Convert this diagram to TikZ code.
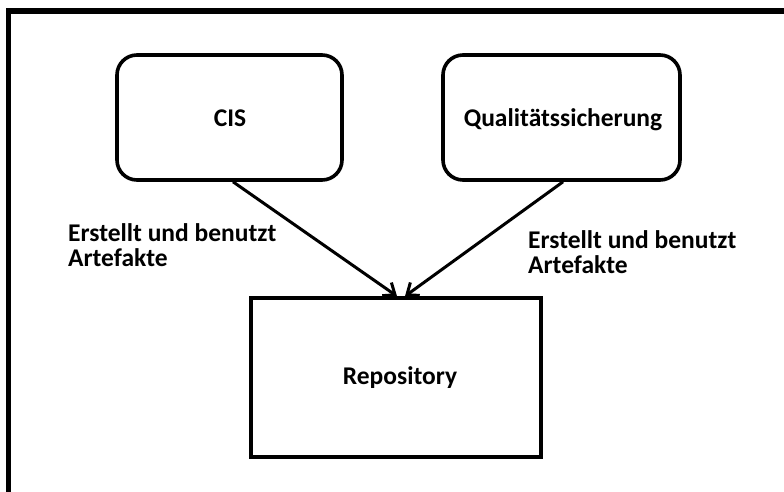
\documentclass[tikz,border=0pt]{standalone}
\usepackage{fontspec}
\setmainfont{Carlito}
\usetikzlibrary{arrows.meta,calc}
\begin{document}
\begin{tikzpicture}[x=1pt,y=-1pt,
  every node/.style={font=\fontsize{25.5}{25.5}\selectfont\bfseries},
  roundbox/.style={draw,line width=3.6pt,rounded corners=20pt,inner sep=0pt},
  plainbox/.style={draw,line width=3.6pt,inner sep=0pt},
  link/.style={line width=3pt,-{Straight Barb[length=10pt,width=16pt,line width=3pt]}},
  caption/.style={align=left,anchor=north west,inner sep=0pt}]
  \useasboundingbox (0,0) rectangle (784,492);
  \fill[white] (0,0) rectangle (784,492);
  % page frame (top and left edges)
  \draw[line width=5.5pt] (8.5,492) -- (8.5,11) -- (784,11);
  % components
  \node[roundbox,minimum width=225pt,minimum height=125pt] (cis) at (229.5,117.5) {};
  \node at (230,118) {CIS};
  \node[roundbox,minimum width=237pt,minimum height=125pt] (qs) at (561.5,117.5) {};
  \node at (563,120) {Qualitätssicherung};
  \node[plainbox,minimum width=290pt,minimum height=159pt] (repo) at (396,377.5) {};
  \node at (400,378) {Repository};
  % usage relations
  \draw[link] ($(cis.south)+(3.5,0)$) -- ($(repo.north)+(1,0)$);
  \draw[link] ($(qs.south)+(1.5,0)$) -- ($(repo.north)+(9,0)$);
  \node[caption] (lblA) at (68,223) {Erstellt und benutzt\\Artefakte};
  \node[caption] (lblB) at (528,230) {Erstellt und benutzt\\Artefakte};
\end{tikzpicture}
\end{document}
